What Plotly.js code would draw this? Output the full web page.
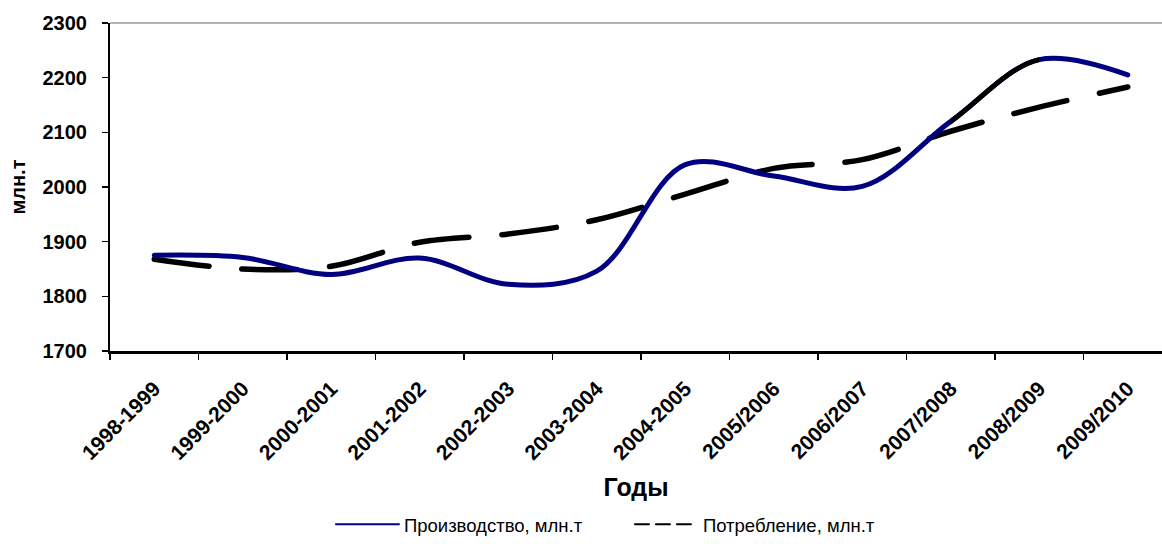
<!DOCTYPE html>
<html>
<head>
<meta charset="utf-8">
<script src="https://cdn.plot.ly/plotly-3.0.1.min.js"></script>
<style>
html, body { margin: 0; padding: 0; background: #fff; }
#chart { width: 1162px; height: 544px; }
path.js-line { stroke-linecap: round; }
</style>
</head>
<body>
<div id="chart"></div>
<script>
const categories = ['1998-1999', '1999-2000', '2000-2001', '2001-2002', '2002-2003', '2003-2004',
  '2004-2005', '2005/2006', '2006/2007', '2007/2008', '2008/2009', '2009/2010'];
const production = [1875, 1871, 1840, 1870, 1822, 1846, 2041, 2020, 2001, 2120, 2233, 2205];
const consumption = [1868, 1850, 1855, 1899, 1914, 1940, 1987, 2034, 2050, 2102, 2146, 2183];
const prodName = 'Производство, млн.т';
const consName = 'Потребление, млн.т';

const FONT = 'Liberation Sans, Arial, sans-serif';
const pxPerCat = 88.5;
const plotW = 1052;
const span = plotW / pxPerCat;
const xr = [-0.5, -0.5 + span];
const segA = 9.5 / span, segB = 10.5 / span;

const traces = [
  {
    x: categories, y: consumption, type: 'scatter', mode: 'lines', name: consName,
    line: { color: '#000000', width: 5.5, dash: '55px,33px', shape: 'spline', smoothing: 1 },
    showlegend: false, hoverinfo: 'x+y'
  },
  {
    x: categories, y: production, type: 'scatter', mode: 'lines', name: prodName,
    line: { color: '#000080', width: 5, shape: 'spline', smoothing: 1 },
    showlegend: false, hoverinfo: 'x+y'
  },
  {
    x: categories, y: production, type: 'scatter', mode: 'lines', name: prodName,
    xaxis: 'x2', yaxis: 'y',
    line: { color: '#000000', width: 5, shape: 'spline', smoothing: 1 },
    showlegend: false, hoverinfo: 'skip'
  },
  {
    x: [null], y: [null], type: 'scatter', mode: 'lines', name: prodName,
    line: { color: '#000080', width: 2 }, showlegend: true
  },
  {
    x: [null], y: [null], type: 'scatter', mode: 'lines', name: consName,
    line: { color: '#000000', width: 2, dash: '14px,7px' }, showlegend: true
  }
];

const layout = {
  width: 1162, height: 544,
  margin: { l: 110, r: 0, t: 23, b: 188, pad: 0 },
  paper_bgcolor: '#ffffff', plot_bgcolor: 'rgba(0,0,0,0)',
  font: { family: FONT, color: '#000000' },
  showlegend: true,
  legend: {
    orientation: 'h', x: 0.21, xanchor: 'left', y: -0.53, yanchor: 'middle',
    font: { family: FONT, size: 18.5, color: '#000000' },
    itemwidth: 63, entrywidth: 221, entrywidthmode: 'pixels',
    bgcolor: 'rgba(0,0,0,0)'
  },
  xaxis: {
    type: 'category', categoryorder: 'array', categoryarray: categories,
    range: xr, autorange: false, domain: [0, 1], automargin: false,
    showgrid: false, zeroline: false,
    showline: true, linecolor: '#000000', linewidth: 3,
    ticks: 'outside', tickson: 'boundaries', ticklen: 6, tickwidth: 1.5, tickcolor: '#000000',
    tickangle: -45, ticklabelstandoff: 14,
    tickfont: { family: FONT, size: 21, color: '#000000', weight: 'bold' },
    title: { text: 'Годы', standoff: 16, font: { family: FONT, size: 25, color: '#000000', weight: 'bold' } }
  },
  xaxis2: {
    type: 'category', categoryorder: 'array', categoryarray: categories,
    range: [9, 10], autorange: false, domain: [segA, segB],
    anchor: 'y', visible: false, showgrid: false, zeroline: false
  },
  yaxis: {
    range: [1700, 2300], autorange: false, dtick: 100, tick0: 1700, automargin: false,
    showgrid: false, zeroline: false,
    showline: true, linecolor: '#000000', linewidth: 2,
    ticks: 'outside', ticklen: 6, tickwidth: 1.5, tickcolor: '#000000',
    ticklabelstandoff: 11,
    tickfont: { family: FONT, size: 20, color: '#000000', weight: 'bold' },
    title: { text: 'млн.т', standoff: 12, font: { family: FONT, size: 20, color: '#000000', weight: 'bold' } }
  },
  shapes: [
    { type: 'line', xref: 'paper', yref: 'paper', x0: 0, x1: 1, y0: 1, y1: 1,
      line: { color: '#9a9a9a', width: 1.5 } }
  ]
};

Plotly.newPlot('chart', traces, layout, { displayModeBar: false, staticPlot: true });
</script>
</body>
</html>
